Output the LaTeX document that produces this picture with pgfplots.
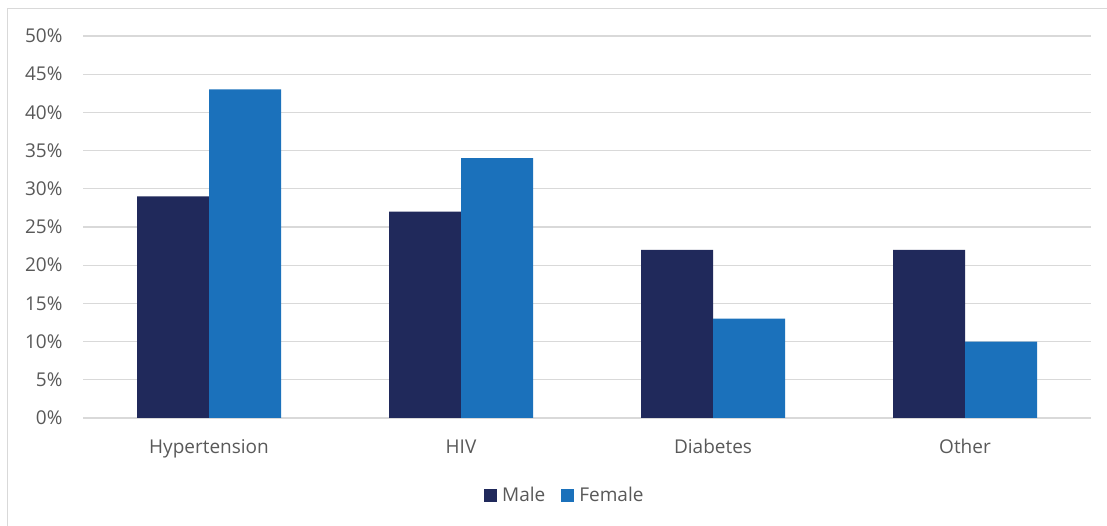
\documentclass[border=0pt]{standalone}
\usepackage{pgfplots}
\pgfplotsset{compat=1.18}
\usepackage{fontspec}
\setmainfont{Open Sans}
\definecolor{male}{RGB}{32,41,91}
\definecolor{female}{RGB}{27,113,187}
\definecolor{gridc}{RGB}{217,217,217}
\definecolor{txt}{RGB}{89,89,89}
\begin{document}
\begin{tikzpicture}[x=1pt,y=1pt]
\path[use as bounding box] (0,0) rectangle (1107,526);
\draw[gridc, line width=1pt] (7,0) -- (7,517) -- (1107,517);
\begin{axis}[
  at={(83pt,108pt)}, anchor=south west,
  scale only axis, width=1008pt, height=382pt,
  xmin=-0.5, xmax=3.5, ymin=0, ymax=50,
  ybar=0pt, bar width=72pt,
  xtick={0,1,2,3},
  xticklabels={Hypertension,HIV,Diabetes,Other},
  ytick={0,5,...,50},
  yticklabel={\pgfmathprintnumber{\tick}\%},
  /pgf/number format/assume math mode=true,
  axis line style={draw=none},
  major tick length=0pt,
  ymajorgrids, grid style={gridc, line width=1.3pt},
  ticklabel style={font=\fontsize{19}{23}\selectfont, text=txt},
  yticklabel style={xshift=-17pt},
  xticklabel style={yshift=-18pt},
  legend style={draw=none, at={(0.478,-0.2016)}, anchor=center, legend columns=2,
    font=\fontsize{19}{23}\selectfont, text=txt,
    /tikz/every even column/.append style={column sep=14pt}},
  legend cell align=left,
  legend image code/.code={\fill[#1] (0pt,-6.5pt) rectangle (13pt,6.5pt);},
]
\addplot[fill=male, draw=none] coordinates {(0,29) (1,27) (2,22) (3,22)};
\addplot[fill=female, draw=none] coordinates {(0,43) (1,34) (2,13) (3,10)};
\legend{\hspace{3pt}Male,\hspace{3pt}Female}
\end{axis}
\end{tikzpicture}
\end{document}
